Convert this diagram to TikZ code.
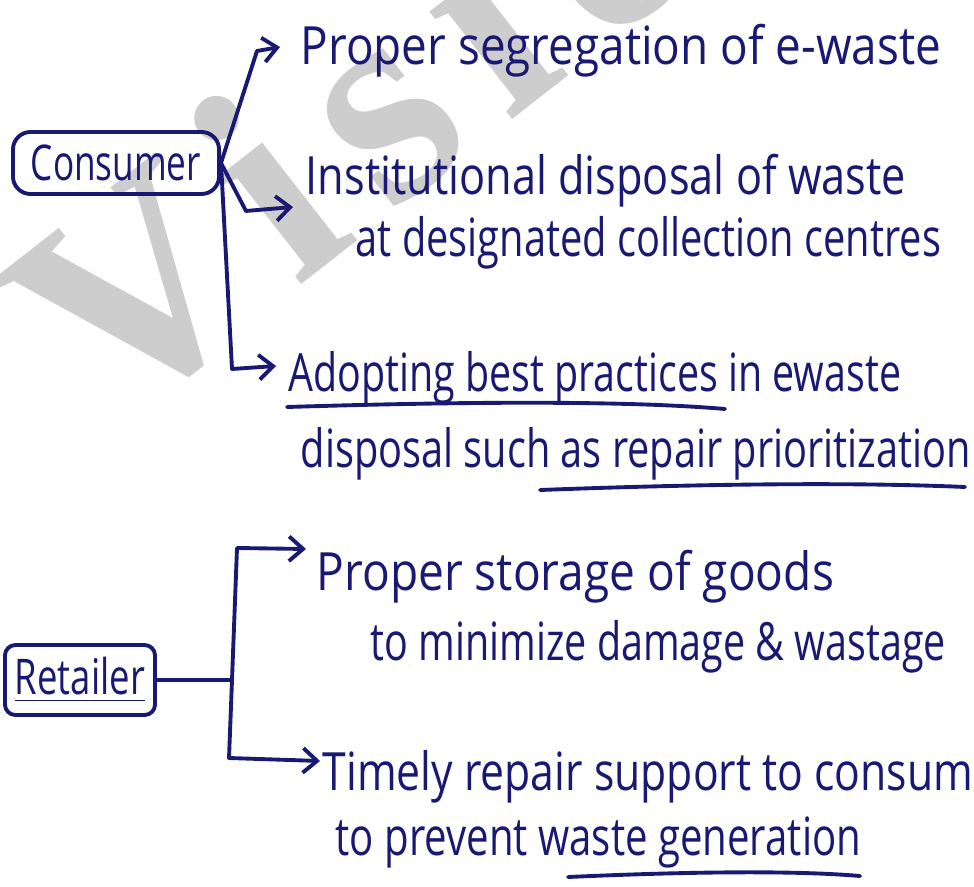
\documentclass[tikz,border=0pt]{standalone}
\usepackage{fontspec}
\setmainfont{Open Sans}
\newfontfamily\wmfont[LetterSpace=12]{Liberation Serif}
\usetikzlibrary{arrows.meta}
\definecolor{ink}{RGB}{25,25,115}
\definecolor{wmgray}{RGB}{205,205,205}
% squeeze a line of text to a given width, keeping its height
\newcommand{\fitto}[2]{\resizebox{#1}{\height}{#2}}

\begin{document}
\begin{tikzpicture}[x=0.01cm,y=-0.01cm,
  inkline/.style={draw=ink, line width=1.1pt, line cap=round, line join=round},
  arr/.style={inkline, -{Straight Barb[length=4pt,width=7pt]}},
  item/.style={anchor=base west, inner sep=0pt, text=ink, font=\fontsize{15}{18}\selectfont},
  box/.style={inkline, rounded corners=5pt, inner sep=0pt, text=ink, font=\fontsize{14}{16}\selectfont},
  wmtext/.style={text=wmgray, inner sep=0pt, anchor=base west, font=\wmfont\bfseries\fontsize{84}{84}\selectfont}
]
\useasboundingbox (0,0) rectangle (974,886);
\fill[white] (0,0) rectangle (974,886);

% background watermark
\node[wmtext, rotate=38] (wm) at (109,435) {Vision};

% ---- Consumer ----
\node[box, minimum width=2.06cm, minimum height=0.62cm] (cons) at (116,163) {\fitto{1.7cm}{Consumer}};

\node[item] (c1)  at (300,65)  {\fitto{6.40cm}{Proper segregation of e-waste}};
\node[item] (c2a) at (305,195) {\fitto{6.00cm}{Institutional disposal of waste}};
\node[item] (c2b) at (355,257) {\fitto{5.85cm}{at designated collection centres}};
\node[item] (c3a) at (288,392) {\fitto{6.12cm}{Adopting best practices in ewaste}};
\node[item] (c3b) at (300,468) {\fitto{6.70cm}{disposal such as repair prioritization}};

\coordinate (e1) at (280,47);
\coordinate (e2) at (293,207);
\coordinate (e3) at (276,366);

\draw[arr] (cons.east) -- (257,51) -- (e1);
\draw[arr] (cons.east) -- (246,211) -- (e2);
\draw[arr] (cons.east) -- (232,369) -- (e3);

% underlines
\draw[inkline] (287,407) .. controls (450,402) and (620,400) .. (725,409);
\draw[inkline] (540,490) .. controls (700,484) and (850,482) .. (965,487);

% ---- Retailer ----
\node[box, rounded corners=3pt, minimum width=1.5cm, minimum height=0.7cm] (ret) at (80,680) {\fitto{1.3cm}{\underline{Retailer}}};

\node[item] (r1a) at (316,590) {\fitto{5.17cm}{Proper storage of goods}};
\node[item] (r1b) at (370,660) {\fitto{5.75cm}{to minimize damage \& wastage}};
\node[item] (r2a) at (322,790) {\fitto{6.50cm}{Timely repair support to consum}};
\node[item] (r2b) at (335,855) {\fitto{5.25cm}{to prevent waste generation}};

\coordinate (fork) at (232,680);
\coordinate (e4) at (306,549);
\coordinate (e5) at (320,761);

\draw[inkline] (ret.east) -- (fork);
\draw[arr] (fork) -- (237,548) -- (e4);
\draw[arr] (fork) -- (229,758) -- (e5);

\draw[inkline] (568,877) .. controls (680,872) and (790,870) .. (860,876);
\end{tikzpicture}
\end{document}
